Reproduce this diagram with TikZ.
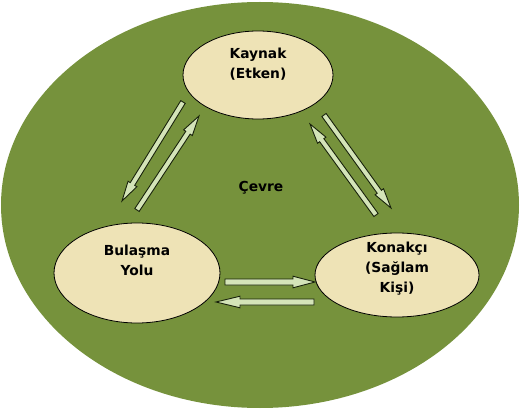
\documentclass[tikz,border=0pt]{standalone}
\usepackage{fontspec}
\setmainfont{DejaVu Sans}
\usetikzlibrary{shapes.geometric,calc}
\definecolor{envgreen}{HTML}{76923C}
\definecolor{blobfill}{HTML}{EEE3B6}
\definecolor{arrfill}{HTML}{D4E4B8}
\definecolor{arrline}{HTML}{18220B}
\tikzset{
  blob/.style={ellipse, draw=black, line width=0.8pt, fill=blobfill, inner sep=0pt},
  lbl/.style={align=center, font=\bfseries\fontsize{13.8}{20}\selectfont, text=black},
  arrowsty/.style={draw=arrline, line width=0.9pt, fill=arrfill, line join=miter}
}
\newcommand\blockarr[5]{% from, to, shaft half, head half, head length
  \coordinate (hb) at ($(#2)!#5!(#1)$);
  \draw[arrowsty] ($(#1)!#3!90:(#2)$) -- ($(hb)!#3!90:(#2)$) -- ($(hb)!#4!90:(#2)$) -- (#2)
    -- ($(hb)!#4!-90:(#2)$) -- ($(hb)!#3!-90:(#2)$) -- ($(#1)!#3!-90:(#2)$) -- cycle;}
\begin{document}
\begin{tikzpicture}[x=1pt,y=-1pt]
\useasboundingbox[fill=white] (0,0) rectangle (520,409);
\fill[envgreen] (260,205) ellipse [x radius=259, y radius=203];
\node[blob, minimum width=150pt, minimum height=88pt] (kaynak) at (258,75) {};
\node[blob, minimum width=166pt, minimum height=100pt] (bulasma) at (137,273) {};
\node[blob, minimum width=164pt, minimum height=84pt] (konakci) at (397,275) {};
\node[lbl] (tkaynak) at (258,64) {Kaynak\\(Etken)};
\node[lbl] (tbulasma) at (137,260) {Bulaşma\\Yolu};
\node[lbl] (tkonakci) at (397,269) {Konakçı\\(Sağlam\\Kişi)};
\node[lbl] (cevre) at (261,188) {Çevre};
\coordinate (a1s) at (183,102); \coordinate (a1e) at (122,201);
\coordinate (a2s) at (137,210); \coordinate (a2e) at (199,116);
\coordinate (a3s) at (324,115); \coordinate (a3e) at (391,208);
\coordinate (a4s) at (376,215); \coordinate (a4e) at (310,124);
\coordinate (a5s) at (225,282); \coordinate (a5e) at (315,282);
\coordinate (a6s) at (314,302); \coordinate (a6e) at (216,302);
\blockarr{a1s}{a1e}{2.6pt}{5.2pt}{20pt}
\blockarr{a2s}{a2e}{2.6pt}{5.2pt}{20pt}
\blockarr{a3s}{a3e}{2.6pt}{5.2pt}{20pt}
\blockarr{a4s}{a4e}{2.6pt}{5.2pt}{20pt}
\blockarr{a5s}{a5e}{3pt}{5.8pt}{22pt}
\blockarr{a6s}{a6e}{3pt}{5.8pt}{24pt}
\end{tikzpicture}
\end{document}
